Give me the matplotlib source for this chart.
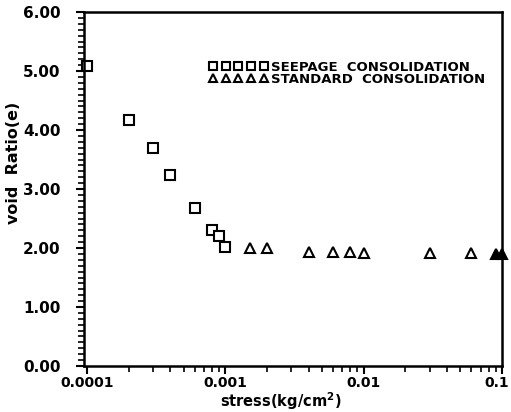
import matplotlib
matplotlib.use('Agg')
import matplotlib.pyplot as plt
from matplotlib.ticker import FixedLocator, FixedFormatter, MultipleLocator, LogLocator, NullFormatter
from matplotlib.transforms import ScaledTranslation

# seepage consolidation (squares)
seep_stress = [0.0001, 0.0002, 0.0003, 0.0004, 0.0006, 0.0008, 0.0009, 0.001]
seep_void = [5.08, 4.17, 3.69, 3.24, 2.68, 2.31, 2.20, 2.02]

# standard consolidation (triangles)
std_stress = [0.0015, 0.002, 0.004, 0.006, 0.008, 0.01, 0.03, 0.06]
std_void = [2.00, 2.00, 1.94, 1.94, 1.93, 1.92, 1.91, 1.91]
end_stress = [0.09, 0.1]
end_void = [1.89, 1.89]

xticks = [0.0001, 0.001, 0.01, 0.1]
xticklabels = ['0.0001', '0.001', '0.01', '0.1']
yticks = [0, 1, 2, 3, 4, 5, 6]
yticklabels = ['0.00', '1.00', '2.00', '3.00', '4.00', '5.00', '6.00']

plt.rcParams['font.family'] = ['DejaVu Sans']

fig = plt.figure(figsize=(5.11, 4.12), dpi=100)
ax = fig.add_axes([0.1644, 0.1117, 0.818, 0.859])

ax.plot(seep_stress, seep_void, 's', mfc='white', mec='black', mew=1.5, ms=6.5,
        clip_on=False, label='SEEPAGE  CONSOLIDATION')
ax.plot(std_stress, std_void, '^', mfc='white', mec='black', mew=1.5, ms=6.5,
        clip_on=False, label='STANDARD  CONSOLIDATION')
ax.plot(end_stress, end_void, '^', mfc='black', mec='black', mew=1.5, ms=7,
        clip_on=False)

ax.set_xscale('log')
ax.set_xlim(9.5e-5, 0.1)
ax.set_ylim(0, 6)

ax.xaxis.set_major_locator(FixedLocator(xticks))
ax.xaxis.set_major_formatter(FixedFormatter(xticklabels))
ax.xaxis.set_minor_locator(LogLocator(base=10, subs=range(2, 10)))
ax.xaxis.set_minor_formatter(NullFormatter())
ax.yaxis.set_major_locator(FixedLocator(yticks))
ax.yaxis.set_major_formatter(FixedFormatter(yticklabels))
ax.yaxis.set_minor_locator(MultipleLocator(0.1))

ax.tick_params(which='major', direction='out', length=6, width=1.5)
ax.tick_params(which='minor', direction='out', length=4, width=1.2)
ax.tick_params(axis='x', which='major', pad=1, labelsize=10)
ax.tick_params(axis='y', which='major', pad=11, labelsize=11)
for lab in ax.get_xticklabels() + ax.get_yticklabels():
    lab.set_fontweight('bold')
# keep the last x label inside the figure
last = ax.get_xticklabels()[-1]
last.set_transform(last.get_transform() + ScaledTranslation(-4 / 72, 0, fig.dpi_scale_trans))

for sp in ax.spines.values():
    sp.set_linewidth(1.8)

ax.set_ylabel('void  Ratio(e)', fontsize=11.5, fontweight='bold')
ax.yaxis.set_label_coords(-0.15, 0.573)
ax.text(0.471, -0.1, 'stress(kg/cm$^\\mathbf{2}$)', transform=ax.transAxes,
        ha='center', va='center', fontsize=10.5, fontweight='bold')

leg = ax.legend(loc='upper left', bbox_to_anchor=(0.3, 0.862), frameon=False,
                numpoints=5, handlelength=4.4, handletextpad=0.3, labelspacing=-0.1,
                markerscale=0.85, fontsize=9.5, borderaxespad=0, borderpad=0)
for t in leg.get_texts():
    t.set_fontweight('bold')

fig.savefig('out.png', dpi=100)
